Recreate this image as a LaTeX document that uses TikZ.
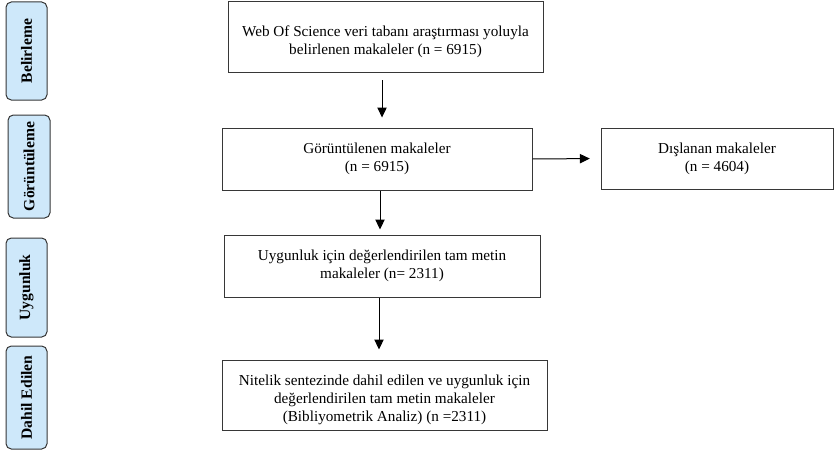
\documentclass[tikz,border=0pt]{standalone}
\usepackage{fontspec}
\setmainfont{Liberation Serif}
\usetikzlibrary{arrows.meta,positioning}
\definecolor{stagefill}{RGB}{206,232,250}
\definecolor{bwdark}{RGB}{55,55,55}

\begin{document}
\begin{tikzpicture}[x=0.75pt,y=-0.75pt,
    box/.style={draw=bwdark,line width=0.75pt,align=center,inner sep=2pt,
                font=\fontsize{11.4}{13.5}\selectfont},
    stage/.style={draw=bwdark,fill=stagefill,rounded corners=4pt,rotate=90,
                line width=0.75pt,minimum height=30.75pt,inner sep=1pt,
                font=\fontsize{11.7}{13}\selectfont\bfseries},
    arr/.style={-{Triangle[width=7pt,length=7.5pt]},line width=0.75pt,color=black}
  ]
    \useasboundingbox (0,0) rectangle (834,453);
    \node[stage,minimum width=73.5pt] (bel) at (26.5,51) {Belirleme};
    \node[stage,minimum width=77.25pt,minimum height=31.5pt] (gor) at (29,166.5) {Görüntüleme};
    \node[stage,minimum width=74.25pt] (uyg) at (26.5,287.5) {Uygunluk};
    \node[stage,minimum width=77.25pt] (dah) at (26.5,397.5) {Dahil Edilen};
    \node[box,minimum width=236.25pt,minimum height=53.25pt] (wos) at (385.5,37.5)
      {\rule{0pt}{15pt}Web Of Science veri tabanı araştırması yoluyla\\belirlenen makaleler (n = 6915)};
    \node[box,minimum width=232.5pt,minimum height=46.5pt] (view) at (377,159)
      {Görüntülenen makaleler\\(n = 6915)};
    \node[box,minimum width=174pt,minimum height=45.75pt] (excl) at (717,158.5)
      {Dışlanan makaleler\\(n = 4604)};
    \node[box,minimum width=237pt,minimum height=46.5pt] (elig) at (382,266)
      {Uygunluk için değerlendirilen tam metin\\makaleler (n= 2311)};
    \node[box,minimum width=243.75pt,minimum height=52.5pt] (incl) at (384.5,395)
      {\rule{0pt}{15pt}Nitelik sentezinde dahil edilen ve uygunluk için\\değerlendirilen tam metin makaleler\\(Bibliyometrik Analiz) (n =2311)};
    \draw[arr,shorten <=5pt,shorten >=7.5pt] ([xshift=-2.6pt]wos.south) -- ([xshift=-2.6pt]wos.south |- view.north);
    \draw[arr,shorten >=8pt] (view.east) -- (excl.west);
    \draw[arr,shorten >=3.75pt] ([xshift=2.25pt]view.south) -- ([xshift=2.25pt]view.south |- elig.north);
    \draw[arr,shorten >=7.5pt] ([xshift=-2.25pt]elig.south) -- ([xshift=-2.25pt]elig.south |- incl.north);
\end{tikzpicture}
\end{document}
